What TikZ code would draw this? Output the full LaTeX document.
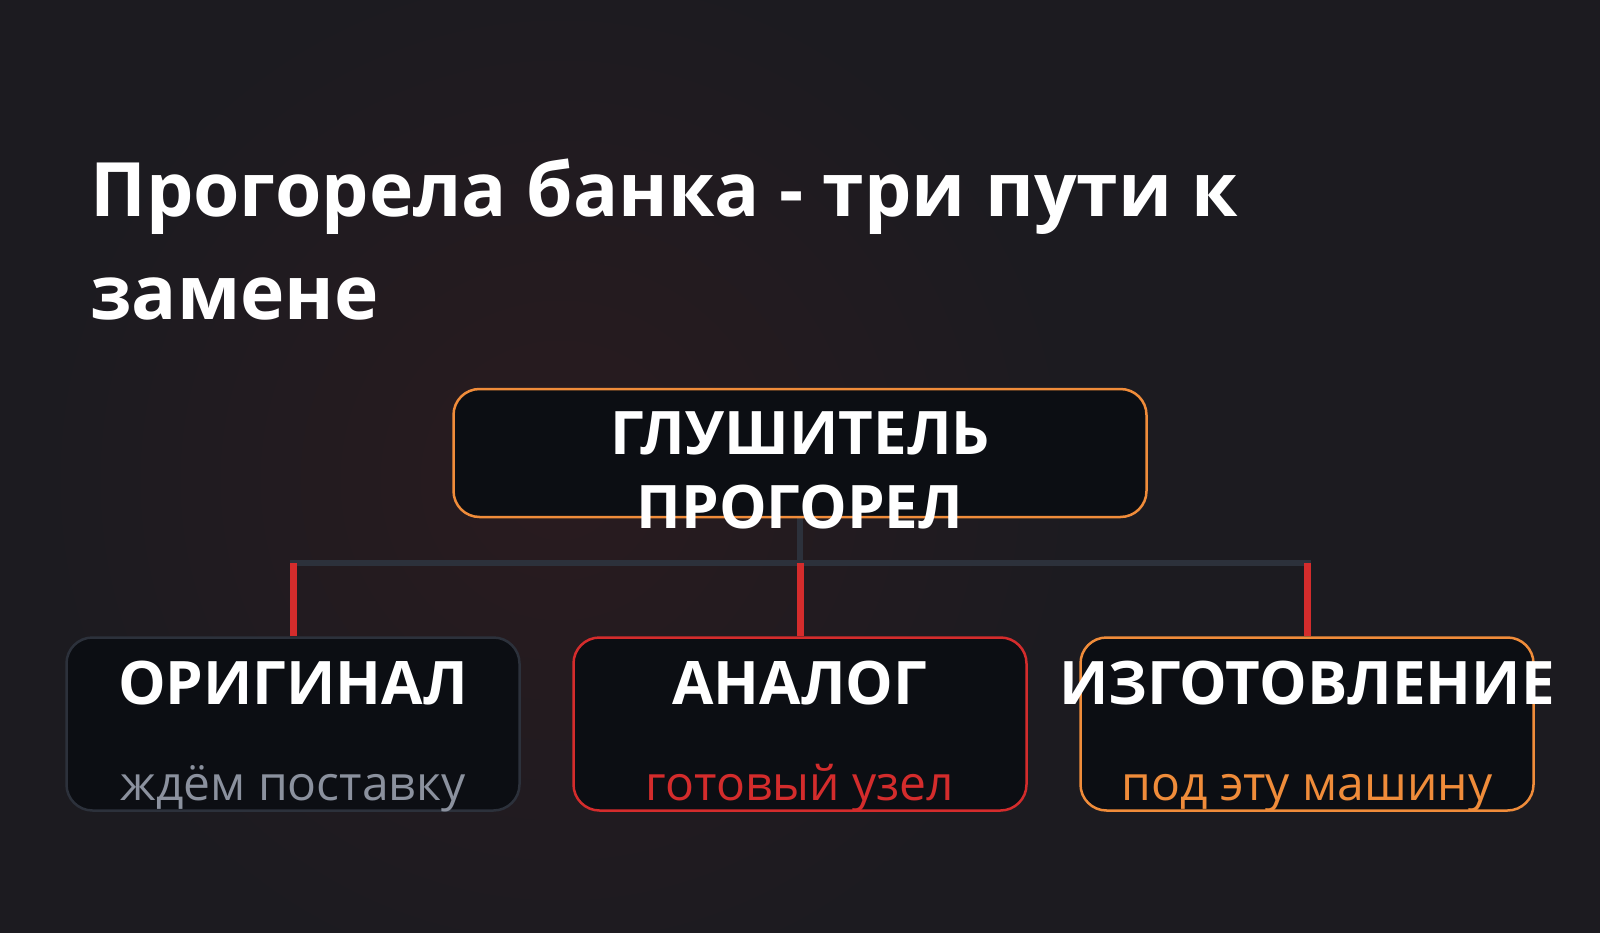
\documentclass[tikz,border=0pt]{standalone}
\usepackage{fontspec}
\setmainfont{Open Sans}
\usetikzlibrary{positioning,backgrounds}
\definecolor{bgdark}{HTML}{1C1B20}
\definecolor{bgglow}{HTML}{291B1F}
\definecolor{boxfill}{HTML}{0C0E13}
\definecolor{orangeline}{HTML}{F08C3A}
\definecolor{redline}{HTML}{D42C2C}
\definecolor{grayline}{HTML}{2C313B}
\definecolor{graytext}{HTML}{8B919E}
\tikzset{
  card/.style={draw, line width=2.5pt, rounded corners=26pt, fill=boxfill,
    minimum width=453pt, minimum height=173pt, inner sep=0pt},
  heading/.style={text=white, font=\fontsize{60}{66}\selectfont\bfseries,
    inner sep=0pt, anchor=base},
  subline/.style={font=\fontsize{48}{52}\selectfont, inner sep=0pt, anchor=base},
  trunk/.style={grayline, line width=6pt},
  branch/.style={redline, line width=7pt},
}
\begin{document}
\begin{tikzpicture}[x=1pt,y=-1pt]
  \useasboundingbox (0,0) rectangle (1600,933);
  \begin{scope}[on background layer]
    \fill[bgdark] (0,0) rectangle (1600,933);
    \clip (0,0) rectangle (1600,933);
    \shade[inner color=bgglow, outer color=bgdark] (560,480) circle (520pt);
  \end{scope}

  % title
  \node[anchor=base west, align=left, inner sep=0pt, text=white,
    font=\fontsize{75}{103}\selectfont\bfseries] (title) at (90,319)
    {Прогорела банка - три пути к\\замене};

  % top box
  \node[card, draw=orangeline, minimum width=693pt, minimum height=128pt] (fault) at (800,453) {};
  \node[heading, font=\fontsize{60}{74}\selectfont\bfseries, align=center] (faulttext) at (800,528)
    {ГЛУШИТЕЛЬ\\ПРОГОРЕЛ};

  % three ways
  \node[card, draw=grayline] (orig) at (293,724) {};
  \node[card, draw=redline] (analog) at (800,724) {};
  \node[card, draw=orangeline] (make) at (1307,724) {};

  \node[heading] (origtitle) at (293,704) {ОРИГИНАЛ};
  \node[heading] (analogtitle) at (800,704) {АНАЛОГ};
  \node[heading] (maketitle) at (1307,704) {ИЗГОТОВЛЕНИЕ};

  \node[subline, text=graytext] (orignote) at (293,800) {ждём поставку};
  \node[subline, text=redline] (analognote) at (800,800) {готовый узел};
  \node[subline, text=orangeline] (makenote) at (1307,800) {под эту машину};

  % connectors
  \coordinate (busmid) at (800,563);
  \coordinate (busleft) at (293,563);
  \coordinate (busright) at (1307,563);
  \begin{scope}[on background layer]
    \draw[trunk] (fault.south) -- (busmid);
    \draw[trunk] ([xshift=-3.5pt]busleft) -- ([xshift=3.5pt]busright);
    \draw[branch] (busleft) -- (orig.north);
    \draw[branch] (busmid) -- (analog.north);
    \draw[branch] (busright) -- (make.north);
  \end{scope}
\end{tikzpicture}
\end{document}
